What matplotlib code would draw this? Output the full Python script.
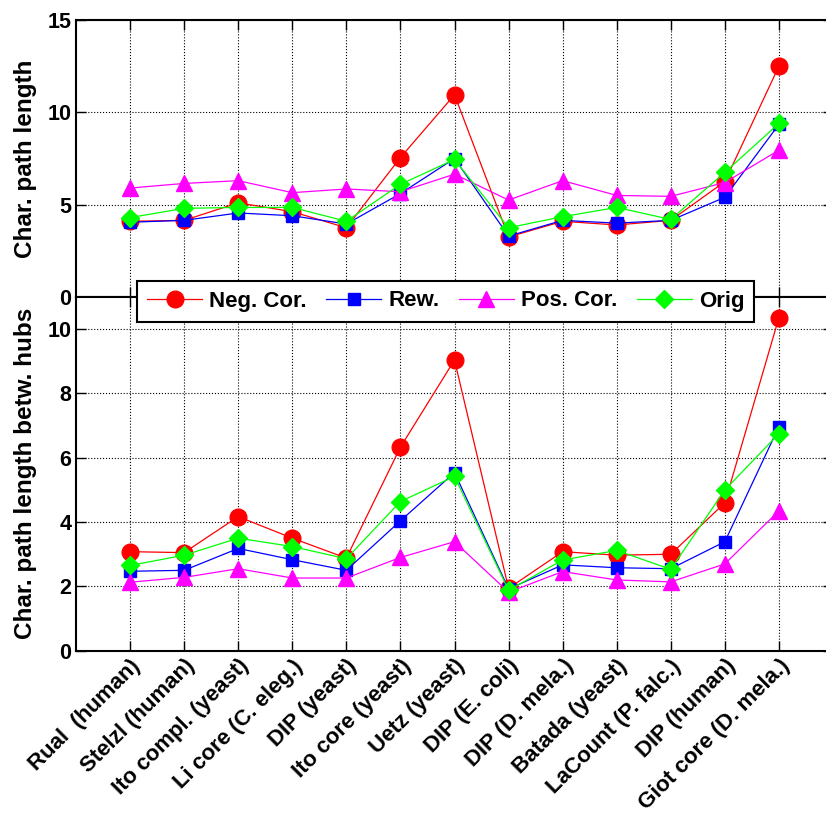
import matplotlib
matplotlib.use('Agg')
import matplotlib.pyplot as plt
import numpy as np

plt.rcParams['font.family'] = ['Liberation Sans', 'DejaVu Sans']
plt.rcParams['font.weight'] = 'bold'

# networks on the x axis
networks = ['Rual  (human)', 'Stelzl (human)', 'Ito compl. (yeast)', 'Li core (C. eleg.)',
            'DIP (yeast)', 'Ito core (yeast)', 'Uetz (yeast)', 'DIP (E. coli)',
            'DIP (D. mela.)', 'Batada (yeast)', 'LaCount (P. falc.)', 'DIP (human)',
            'Giot core (D. mela.)']

# characteristic path length
path_neg = [4.1, 4.15, 5.1, 4.62, 3.75, 7.55, 10.95, 3.25, 4.1, 3.9, 4.15, 6.25, 12.5]
path_rew = [4.05, 4.15, 4.55, 4.4, 3.95, 5.6, 7.5, 3.3, 4.15, 4.0, 4.15, 5.4, 9.35]
path_pos = [5.9, 6.15, 6.3, 5.65, 5.85, 5.7, 6.65, 5.25, 6.3, 5.5, 5.45, 6.2, 7.95]
path_orig = [4.3, 4.8, 4.85, 4.85, 4.1, 6.1, 7.45, 3.75, 4.35, 4.85, 4.2, 6.75, 9.4]

# characteristic path length between hubs
hub_neg = [3.08, 3.05, 4.17, 3.5, 2.88, 6.33, 9.04, 1.94, 3.08, 2.97, 3.0, 4.6, 10.36]
hub_rew = [2.47, 2.5, 3.18, 2.83, 2.5, 4.04, 5.54, 1.92, 2.67, 2.58, 2.55, 3.39, 6.97]
hub_pos = [2.13, 2.28, 2.55, 2.26, 2.26, 2.9, 3.39, 1.82, 2.46, 2.2, 2.14, 2.7, 4.35]
hub_orig = [2.65, 2.97, 3.5, 3.24, 2.86, 4.64, 5.42, 1.88, 2.82, 3.12, 2.53, 5.0, 6.75]

series_names = ['Neg. Cor.', 'Rew.', 'Pos. Cor.', 'Orig']
styles = [
    dict(color='#ff0000', marker='o', markersize=12),
    dict(color='#0000ff', marker='s', markersize=9),
    dict(color='#ff00ff', marker='^', markersize=12),
    dict(color='#00ff00', marker='D', markersize=9.5),
]

W, H = 826, 816
fig = plt.figure(figsize=(W / 100, H / 100), dpi=100)

left = 76 / W
width = (833 - 76) / W
ax_top = fig.add_axes([left, (H - 297) / H, width, (297 - 20) / H])
ax_bot = fig.add_axes([left, (H - 650.7) / H, width, (650.7 - 297) / H])

x = np.arange(1, len(networks) + 1)


def style_axes(ax):
    ax.set_xlim(0, 14)
    ax.set_xticks(x)
    ax.grid(True, linestyle=':', color='black', linewidth=0.8)
    ax.tick_params(direction='in', top=True, right=True, labelsize=15.5, length=7, width=1)
    for sp in ax.spines.values():
        sp.set_linewidth(1.5)
    for lab in ax.get_yticklabels():
        lab.set_fontweight('bold')


lines = []
for data, name, st in zip([path_neg, path_rew, path_pos, path_orig], series_names, styles):
    ln, = ax_top.plot(x, data, linewidth=0.9, markeredgecolor=st['color'],
                      label=name, **st)
    lines.append(ln)
ax_top.set_ylim(0, 15)
ax_top.set_yticks([0, 5, 10, 15])
style_axes(ax_top)
ax_top.set_xticklabels([])
ax_top.set_ylabel('Char. path length', fontsize=17.5, fontweight='bold', labelpad=7)

for data, st in zip([hub_neg, hub_rew, hub_pos, hub_orig], styles):
    ax_bot.plot(x, data, linewidth=0.9, markeredgecolor=st['color'], **st)
ax_bot.set_ylim(0, 11)
ax_bot.set_yticks([0, 2, 4, 6, 8, 10])
style_axes(ax_bot)
ax_bot.set_xticklabels(networks, rotation=45, ha='right', rotation_mode='anchor',
                       fontsize=16, fontweight='bold')
ax_bot.set_ylabel('Char. path length betw. hubs', fontsize=17.5, fontweight='bold', labelpad=7)

leg = fig.legend(lines, series_names, loc='center',
                 bbox_to_anchor=((139 + 752) / 2 / W, (H - 301) / H),
                 ncol=4, prop=dict(weight='bold', size=16),
                 fancybox=False, framealpha=1, edgecolor='black',
                 handlelength=2.5, columnspacing=0.87, handletextpad=0.3,
                 borderpad=0.45, borderaxespad=0)
leg.get_frame().set_linewidth(1.5)

fig.savefig('out.png', dpi=100)
